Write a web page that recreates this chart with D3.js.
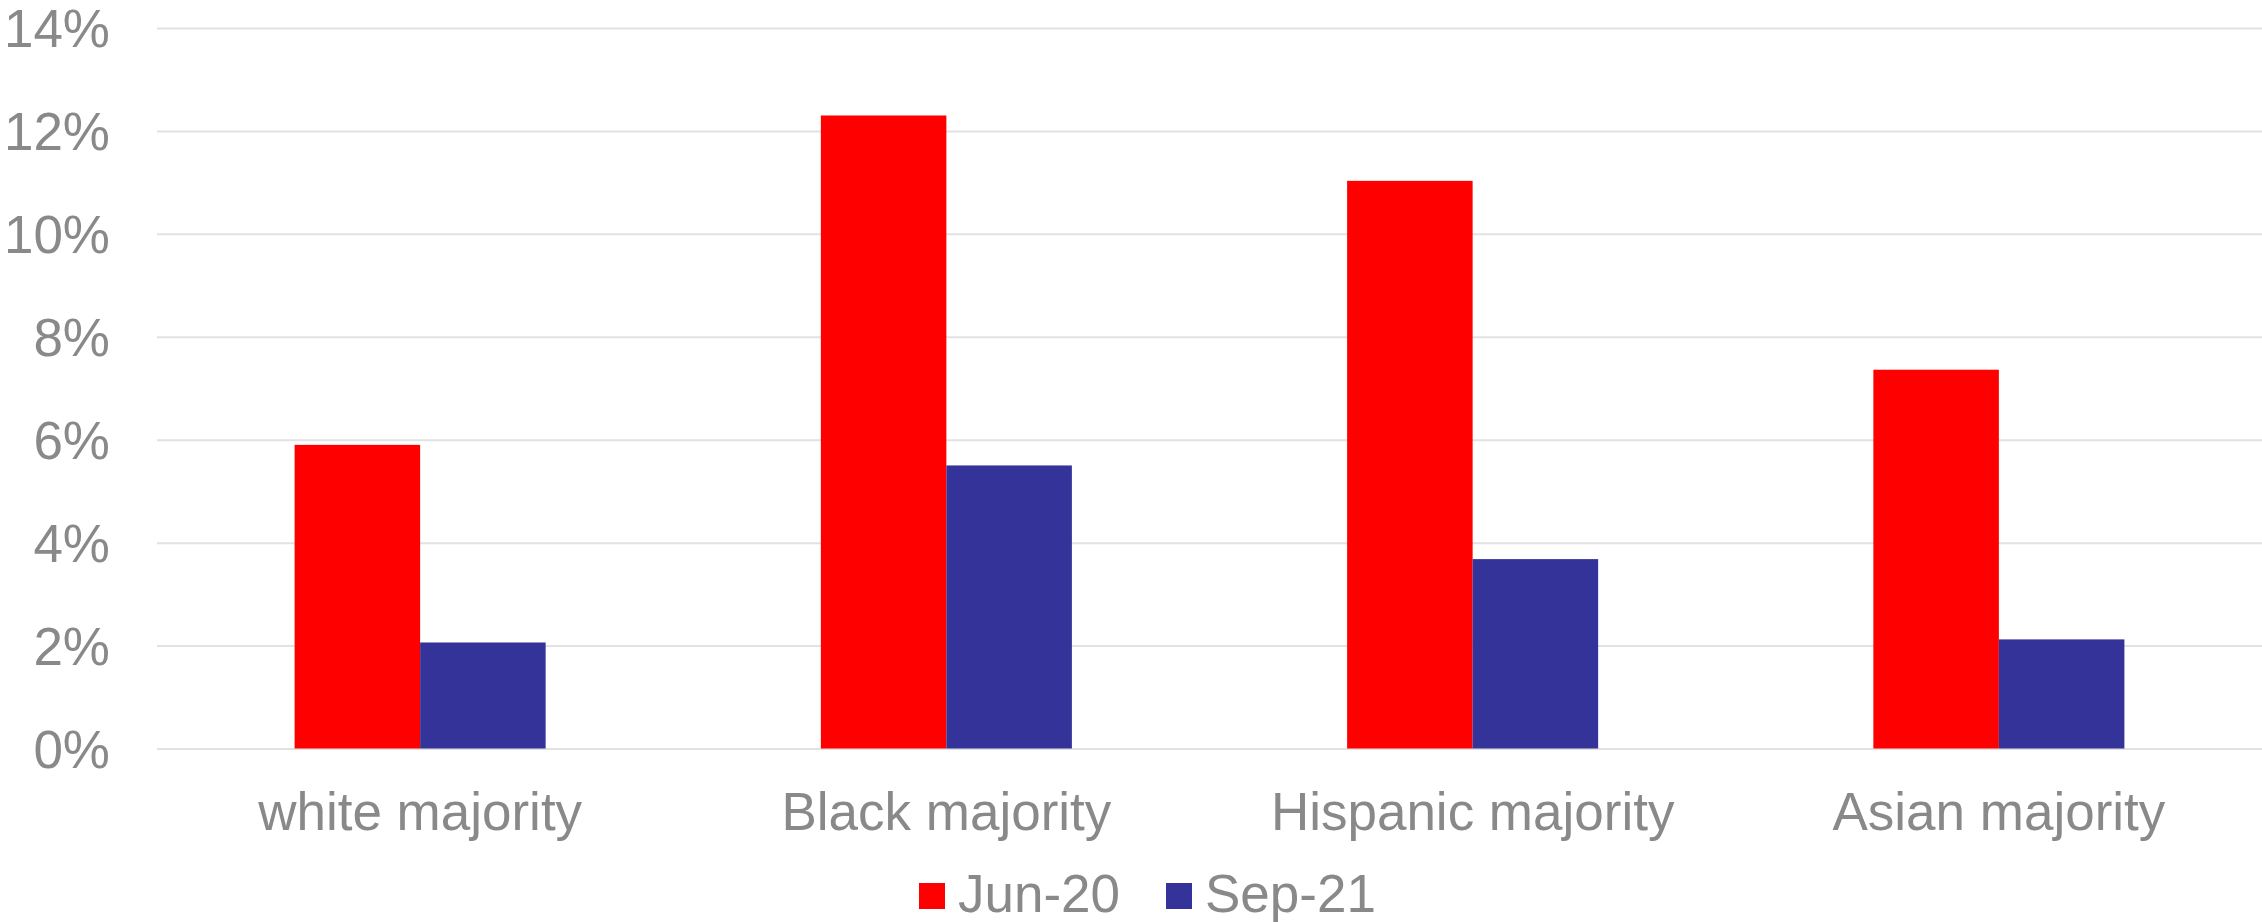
<!DOCTYPE html>
<html><head><meta charset="utf-8">
<script src="https://cdn.jsdelivr.net/npm/d3@7"></script>
<style>html,body{margin:0;padding:0;background:#fff;}svg{display:block;font-family:"Liberation Sans",Arial,sans-serif;}</style>
</head><body>
<svg id="chart" width="2262" height="922"></svg>
<script>
const categories = ["white majority", "Black majority", "Hispanic majority", "Asian majority"];
const seriesNames = ["Jun-20", "Sep-21"];
const jun20 = [5.9, 12.3, 11.03, 7.36];
const sep21 = [2.06, 5.5, 3.68, 2.12];
const seriesColors = ["#ff0000", "#333399"];
const yTicks = [0, 2, 4, 6, 8, 10, 12, 14];

(function () {
const svg = d3.select("#chart");
const plotLeft = 157, plotRight = 2262, plotTop = 28, plotBottom = 748.5;
const textColor = "#898989";

const x0 = d3.scaleBand().domain(categories).range([plotLeft, plotRight]).paddingInner(0.523).paddingOuter(0.2615);
const x1 = d3.scaleBand().domain(seriesNames).range([0, x0.bandwidth()]).padding(0);
const y = d3.scaleLinear().domain([0, 14]).range([plotBottom, plotTop]);

// gridlines
const yAxis = d3.axisLeft(y).tickValues(yTicks).tickSize(-(plotRight - plotLeft)).tickFormat(d => d + "%");
const ga = svg.append("g").attr("transform", `translate(${plotLeft},0)`).call(yAxis);
ga.select(".domain").remove();
ga.selectAll(".tick line").attr("stroke", "#e2e2e2").attr("stroke-width", 2);
ga.selectAll(".tick text").attr("x", -47).attr("dy", "0.35em").attr("fill", textColor)
  .attr("font-size", 53).attr("text-anchor", "end");

const data = categories.map((c, i) => ({cat: c, vals: [jun20[i], sep21[i]]}));
const groups = svg.append("g").selectAll("g").data(data).join("g")
  .attr("transform", d => `translate(${x0(d.cat)},0)`);
groups.selectAll("rect").data(d => d.vals.map((v, j) => ({s: seriesNames[j], v, j}))).join("rect")
  .attr("x", d => x1(d.s)).attr("width", x1.bandwidth())
  .attr("y", d => y(d.v)).attr("height", d => y(0) - y(d.v))
  .attr("fill", d => seriesColors[d.j]);

// category axis
const xAxis = d3.axisBottom(x0).tickSize(0).tickPadding(0);
const gx = svg.append("g").attr("transform", `translate(0,${plotBottom})`).call(xAxis);
gx.select(".domain").remove();
gx.selectAll(".tick text").attr("y", 81).attr("dy", 0).attr("fill", textColor).attr("font-size", 53);

// legend
const legendItems = [{name: seriesNames[0], color: seriesColors[0], x: 919}, {name: seriesNames[1], color: seriesColors[1], x: 1166}];
const lg = svg.append("g");
legendItems.forEach(it => {
  lg.append("rect").attr("x", it.x).attr("y", 883).attr("width", 26).attr("height", 26).attr("fill", it.color);
  lg.append("text").attr("x", it.x + 39).attr("y", 912).attr("fill", textColor).attr("font-size", 53).text(it.name);
});
})();
</script>
</body></html>
